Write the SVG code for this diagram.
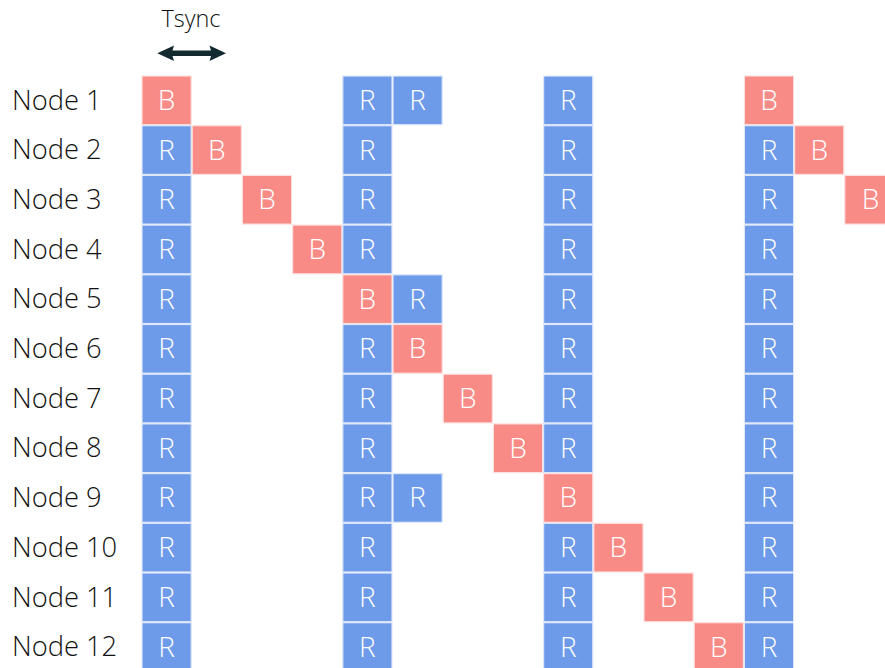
<svg xmlns="http://www.w3.org/2000/svg" width="885" height="668" viewBox="0 0 885 668">
<style>
.lbl{font-family:"Open Sans","Liberation Sans",sans-serif;font-size:27.3px;font-weight:300;fill:#111}
.t{font-family:"Open Sans","Liberation Sans",sans-serif;font-size:23.5px;font-weight:300;fill:#111}
.R rect{fill:#6d9be9;stroke:#dfe8fa;stroke-width:1.2}
.B rect{fill:#f98b87;stroke:#fde0de;stroke-width:1.2}
.c text{font-family:"Open Sans","Liberation Sans",sans-serif;font-size:28px;font-weight:300;fill:#fff;text-anchor:middle}
</style>
<rect width="885" height="668" fill="#fff"/>
<g id="tsync">
<text class="t" x="191" y="26.5" text-anchor="middle">Tsync</text>
</g>
<g id="connectors">
<path d="M157.3,53.3 L174,45.5 L172.5,50.5 L211,50.5 L209.5,45.5 L226,53.3 L209.5,61.1 L211,56.1 L172.5,56.1 L174,61.1 Z" fill="#132a30"/>
</g>
<g id="labels">
<text class="lbl" x="12" y="109.5">Node 1</text>
<text class="lbl" x="12" y="159.2">Node 2</text>
<text class="lbl" x="12" y="208.9">Node 3</text>
<text class="lbl" x="12" y="258.6">Node 4</text>
<text class="lbl" x="12" y="308.3">Node 5</text>
<text class="lbl" x="12" y="358">Node 6</text>
<text class="lbl" x="12" y="407.7">Node 7</text>
<text class="lbl" x="12" y="457.4">Node 8</text>
<text class="lbl" x="12" y="507.1">Node 9</text>
<text class="lbl" x="12" y="556.8">Node 10</text>
<text class="lbl" x="12" y="606.5">Node 11</text>
<text class="lbl" x="12" y="656.2">Node 12</text>
</g>
<!-- Row 0 -->
<g id="n1c0" class="c B"><rect x="142" y="76" width="49.2" height="48.7"/><text x="166.6" y="109.8">B</text></g>
<g id="n1c4" class="c R"><rect x="342.8" y="76" width="49.2" height="48.7"/><text x="367.4" y="109.8">R</text></g>
<g id="n1c5" class="c R"><rect x="393" y="76" width="49.2" height="48.7"/><text x="417.6" y="109.8">R</text></g>
<g id="n1c8" class="c R"><rect x="543.6" y="76" width="49.2" height="48.7"/><text x="568.2" y="109.8">R</text></g>
<g id="n1c12" class="c B"><rect x="744.4" y="76" width="49.2" height="48.7"/><text x="769" y="109.8">B</text></g>
<!-- Row 1 -->
<g id="n2c0" class="c R"><rect x="142" y="125.7" width="49.2" height="48.7"/><text x="166.6" y="159.5">R</text></g>
<g id="n2c1" class="c B"><rect x="192.2" y="125.7" width="49.2" height="48.7"/><text x="216.8" y="159.5">B</text></g>
<g id="n2c4" class="c R"><rect x="342.8" y="125.7" width="49.2" height="48.7"/><text x="367.4" y="159.5">R</text></g>
<g id="n2c8" class="c R"><rect x="543.6" y="125.7" width="49.2" height="48.7"/><text x="568.2" y="159.5">R</text></g>
<g id="n2c12" class="c R"><rect x="744.4" y="125.7" width="49.2" height="48.7"/><text x="769" y="159.5">R</text></g>
<g id="n2c13" class="c B"><rect x="794.6" y="125.7" width="49.2" height="48.7"/><text x="819.2" y="159.5">B</text></g>
<!-- Row 2 -->
<g id="n3c0" class="c R"><rect x="142" y="175.4" width="49.2" height="48.7"/><text x="166.6" y="209.2">R</text></g>
<g id="n3c2" class="c B"><rect x="242.4" y="175.4" width="49.2" height="48.7"/><text x="267" y="209.2">B</text></g>
<g id="n3c4" class="c R"><rect x="342.8" y="175.4" width="49.2" height="48.7"/><text x="367.4" y="209.2">R</text></g>
<g id="n3c8" class="c R"><rect x="543.6" y="175.4" width="49.2" height="48.7"/><text x="568.2" y="209.2">R</text></g>
<g id="n3c12" class="c R"><rect x="744.4" y="175.4" width="49.2" height="48.7"/><text x="769" y="209.2">R</text></g>
<g id="n3c14" class="c B"><rect x="844.8" y="175.4" width="49.2" height="48.7"/><text x="870.5" y="209.2">B</text></g>
<!-- Row 3 -->
<g id="n4c0" class="c R"><rect x="142" y="225.1" width="49.2" height="48.7"/><text x="166.6" y="258.9">R</text></g>
<g id="n4c3" class="c B"><rect x="292.6" y="225.1" width="49.2" height="48.7"/><text x="317.2" y="258.9">B</text></g>
<g id="n4c4" class="c R"><rect x="342.8" y="225.1" width="49.2" height="48.7"/><text x="367.4" y="258.9">R</text></g>
<g id="n4c8" class="c R"><rect x="543.6" y="225.1" width="49.2" height="48.7"/><text x="568.2" y="258.9">R</text></g>
<g id="n4c12" class="c R"><rect x="744.4" y="225.1" width="49.2" height="48.7"/><text x="769" y="258.9">R</text></g>
<!-- Row 4 -->
<g id="n5c0" class="c R"><rect x="142" y="274.8" width="49.2" height="48.7"/><text x="166.6" y="308.6">R</text></g>
<g id="n5c4" class="c B"><rect x="342.8" y="274.8" width="49.2" height="48.7"/><text x="367.4" y="308.6">B</text></g>
<g id="n5c5" class="c R"><rect x="393" y="274.8" width="49.2" height="48.7"/><text x="417.6" y="308.6">R</text></g>
<g id="n5c8" class="c R"><rect x="543.6" y="274.8" width="49.2" height="48.7"/><text x="568.2" y="308.6">R</text></g>
<g id="n5c12" class="c R"><rect x="744.4" y="274.8" width="49.2" height="48.7"/><text x="769" y="308.6">R</text></g>
<!-- Row 5 -->
<g id="n6c0" class="c R"><rect x="142" y="324.5" width="49.2" height="48.7"/><text x="166.6" y="358.3">R</text></g>
<g id="n6c4" class="c R"><rect x="342.8" y="324.5" width="49.2" height="48.7"/><text x="367.4" y="358.3">R</text></g>
<g id="n6c5" class="c B"><rect x="393" y="324.5" width="49.2" height="48.7"/><text x="417.6" y="358.3">B</text></g>
<g id="n6c8" class="c R"><rect x="543.6" y="324.5" width="49.2" height="48.7"/><text x="568.2" y="358.3">R</text></g>
<g id="n6c12" class="c R"><rect x="744.4" y="324.5" width="49.2" height="48.7"/><text x="769" y="358.3">R</text></g>
<!-- Row 6 -->
<g id="n7c0" class="c R"><rect x="142" y="374.2" width="49.2" height="48.7"/><text x="166.6" y="408">R</text></g>
<g id="n7c4" class="c R"><rect x="342.8" y="374.2" width="49.2" height="48.7"/><text x="367.4" y="408">R</text></g>
<g id="n7c6" class="c B"><rect x="443.2" y="374.2" width="49.2" height="48.7"/><text x="467.8" y="408">B</text></g>
<g id="n7c8" class="c R"><rect x="543.6" y="374.2" width="49.2" height="48.7"/><text x="568.2" y="408">R</text></g>
<g id="n7c12" class="c R"><rect x="744.4" y="374.2" width="49.2" height="48.7"/><text x="769" y="408">R</text></g>
<!-- Row 7 -->
<g id="n8c0" class="c R"><rect x="142" y="423.9" width="49.2" height="48.7"/><text x="166.6" y="457.7">R</text></g>
<g id="n8c4" class="c R"><rect x="342.8" y="423.9" width="49.2" height="48.7"/><text x="367.4" y="457.7">R</text></g>
<g id="n8c7" class="c B"><rect x="493.4" y="423.9" width="49.2" height="48.7"/><text x="518" y="457.7">B</text></g>
<g id="n8c8" class="c R"><rect x="543.6" y="423.9" width="49.2" height="48.7"/><text x="568.2" y="457.7">R</text></g>
<g id="n8c12" class="c R"><rect x="744.4" y="423.9" width="49.2" height="48.7"/><text x="769" y="457.7">R</text></g>
<!-- Row 8 -->
<g id="n9c0" class="c R"><rect x="142" y="473.6" width="49.2" height="48.7"/><text x="166.6" y="507.4">R</text></g>
<g id="n9c4" class="c R"><rect x="342.8" y="473.6" width="49.2" height="48.7"/><text x="367.4" y="507.4">R</text></g>
<g id="n9c5" class="c R"><rect x="393" y="473.6" width="49.2" height="48.7"/><text x="417.6" y="507.4">R</text></g>
<g id="n9c8" class="c B"><rect x="543.6" y="473.6" width="49.2" height="48.7"/><text x="568.2" y="507.4">B</text></g>
<g id="n9c12" class="c R"><rect x="744.4" y="473.6" width="49.2" height="48.7"/><text x="769" y="507.4">R</text></g>
<!-- Row 9 -->
<g id="n10c0" class="c R"><rect x="142" y="523.3" width="49.2" height="48.7"/><text x="166.6" y="557.1">R</text></g>
<g id="n10c4" class="c R"><rect x="342.8" y="523.3" width="49.2" height="48.7"/><text x="367.4" y="557.1">R</text></g>
<g id="n10c8" class="c R"><rect x="543.6" y="523.3" width="49.2" height="48.7"/><text x="568.2" y="557.1">R</text></g>
<g id="n10c9" class="c B"><rect x="593.8" y="523.3" width="49.2" height="48.7"/><text x="618.4" y="557.1">B</text></g>
<g id="n10c12" class="c R"><rect x="744.4" y="523.3" width="49.2" height="48.7"/><text x="769" y="557.1">R</text></g>
<!-- Row 10 -->
<g id="n11c0" class="c R"><rect x="142" y="573" width="49.2" height="48.7"/><text x="166.6" y="606.8">R</text></g>
<g id="n11c4" class="c R"><rect x="342.8" y="573" width="49.2" height="48.7"/><text x="367.4" y="606.8">R</text></g>
<g id="n11c8" class="c R"><rect x="543.6" y="573" width="49.2" height="48.7"/><text x="568.2" y="606.8">R</text></g>
<g id="n11c10" class="c B"><rect x="644" y="573" width="49.2" height="48.7"/><text x="668.6" y="606.8">B</text></g>
<g id="n11c12" class="c R"><rect x="744.4" y="573" width="49.2" height="48.7"/><text x="769" y="606.8">R</text></g>
<!-- Row 11 -->
<g id="n12c0" class="c R"><rect x="142" y="622.7" width="49.2" height="48.7"/><text x="166.6" y="656.5">R</text></g>
<g id="n12c4" class="c R"><rect x="342.8" y="622.7" width="49.2" height="48.7"/><text x="367.4" y="656.5">R</text></g>
<g id="n12c8" class="c R"><rect x="543.6" y="622.7" width="49.2" height="48.7"/><text x="568.2" y="656.5">R</text></g>
<g id="n12c11" class="c B"><rect x="694.2" y="622.7" width="49.2" height="48.7"/><text x="718.8" y="656.5">B</text></g>
<g id="n12c12" class="c R"><rect x="744.4" y="622.7" width="49.2" height="48.7"/><text x="769" y="656.5">R</text></g>
</svg>
